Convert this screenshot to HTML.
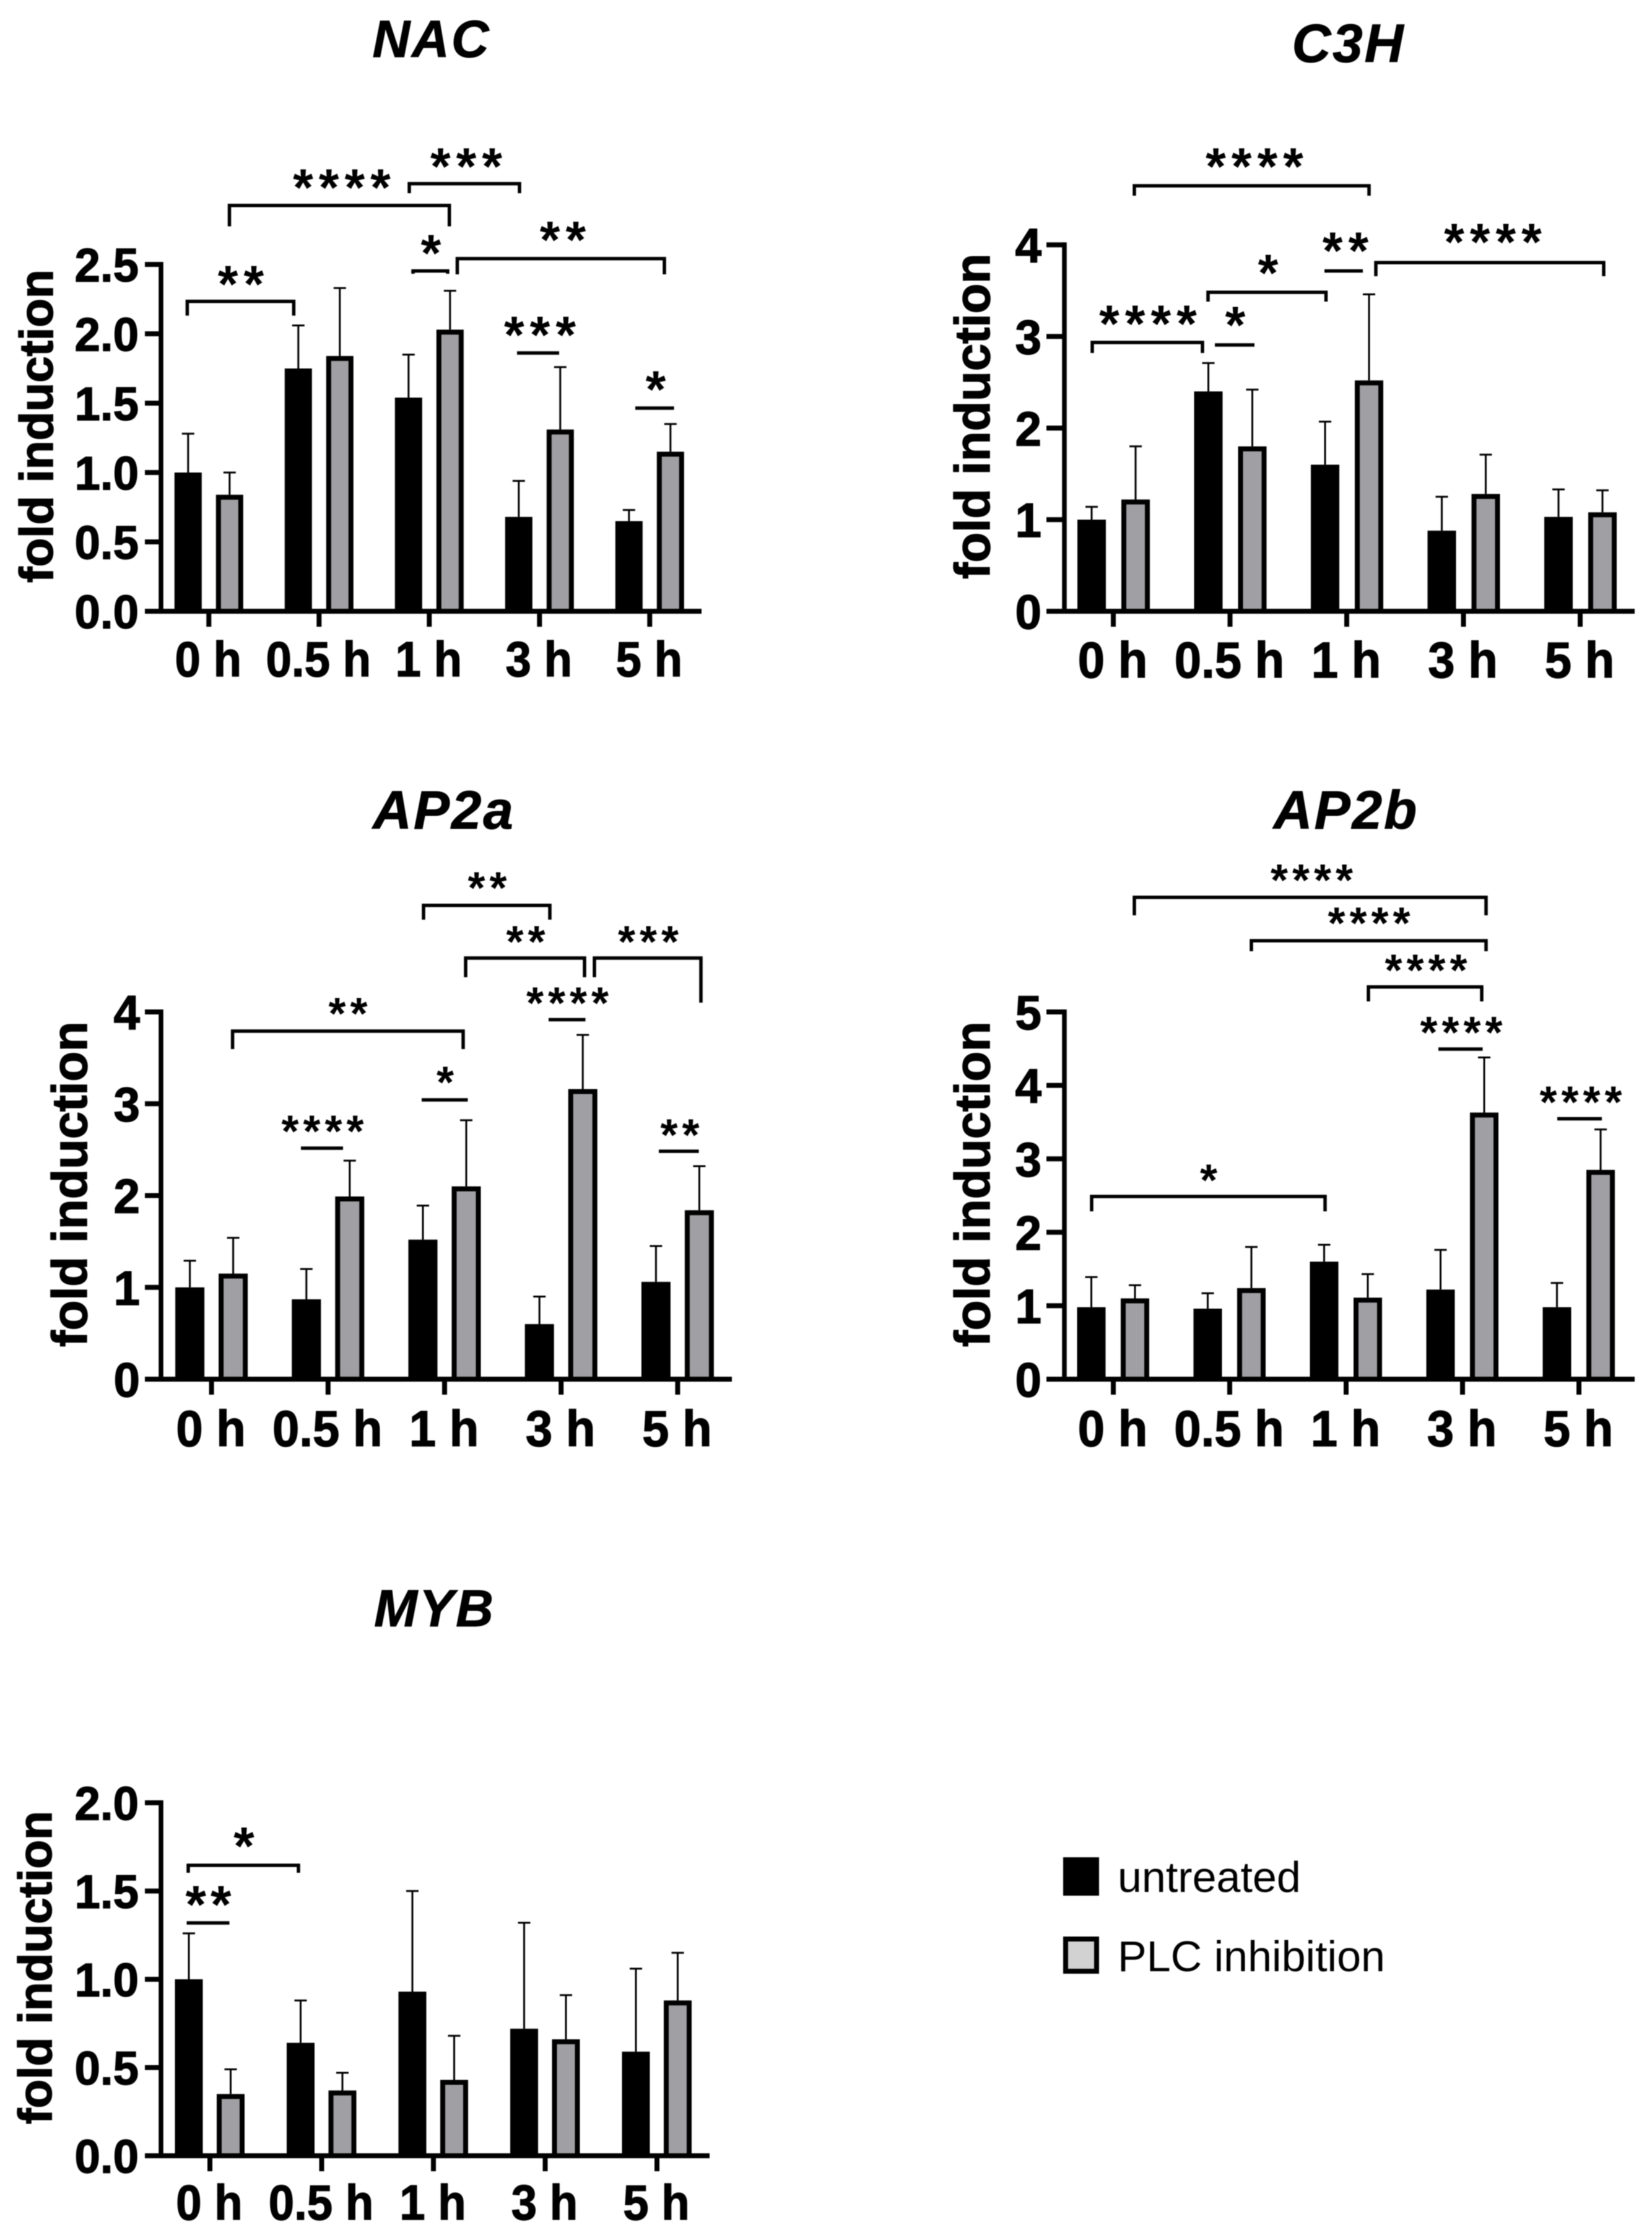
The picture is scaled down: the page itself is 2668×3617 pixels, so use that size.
<!DOCTYPE html>
<html lang="en">
<head>
<meta charset="utf-8">
<title>Fold induction charts</title>
<style>
  html, body { margin: 0; padding: 0; background: #fff; }
  svg { display: block; filter: blur(0.7px); }
  text { font-family: "Liberation Sans", sans-serif; fill: #000; }
  .bold { font-weight: 700; stroke: #000; stroke-width: 1.4px; }
  .gene { font-weight: 700; font-style: italic; font-size: 87px; letter-spacing: 3px; text-anchor: middle; stroke: #000; stroke-width: 1px; }
  .ytitle { font-weight: 700; text-anchor: middle; stroke: #000; stroke-width: 1.6px; }
  .legend-text { font-size: 70px; }
</style>
</head>
<body>
<svg id="figure" xmlns="http://www.w3.org/2000/svg" width="2668" height="3617" viewBox="0 0 2668 3617">
  <rect width="2668" height="3617" fill="#fff"/>

  <g id="nac">
    <text class="gene" style="font-size:84px" x="697" y="92">NAC</text>
    <text class="ytitle" transform="translate(85,688) rotate(-90)" font-size="76.5">fold induction</text>
  </g>
  <g id="c3h">
    <text class="gene" x="2178" y="100">C3H</text>
    <text class="ytitle" transform="translate(1598,672) rotate(-90)" font-size="79.5">fold induction</text>
  </g>
  <g id="ap2a">
    <text class="gene" x="717" y="1338">AP2a</text>
    <text class="ytitle" transform="translate(140,1912) rotate(-90)" font-size="79.5">fold induction</text>
  </g>
  <g id="ap2b">
    <text class="gene" x="2174" y="1338">AP2b</text>
    <text class="ytitle" transform="translate(1598,1912) rotate(-90)" font-size="79.5">fold induction</text>
  </g>
  <g id="myb">
    <text class="gene" style="font-size:84px" x="702" y="2626">MYB</text>
    <text class="ytitle" transform="translate(83,3177) rotate(-90)" font-size="76.5">fold induction</text>
  </g>

  <g>
    <g>
      <rect x="1717" y="2999" width="58" height="62" fill="#000"/>
      <text class="legend-text" x="1805" y="3055">untreated</text>
    </g>
    <g>
      <rect x="1721" y="3131" width="50" height="52" fill="#d2d2d2" stroke="#000" stroke-width="8"/>
      <text class="legend-text" x="1805" y="3183">PLC inhibition</text>
    </g>
  </g>
</svg>

<script>
// Shared categories
const categories = ['0 h', '0.5 h', '1 h', '3 h', '5 h'];

// NAC
const nacTicks = ['0.0', '0.5', '1.0', '1.5', '2.0', '2.5'];
const nacUntreated = [1.0, 1.75, 1.54, 0.68, 0.65];
const nacUntreatedError = [0.28, 0.31, 0.31, 0.26, 0.08];
const nacPlc = [0.84, 1.84, 2.03, 1.31, 1.15];
const nacPlcError = [0.16, 0.49, 0.28, 0.45, 0.20];

// C3H
const c3hTicks = ['0', '1', '2', '3', '4'];
const c3hUntreated = [1.0, 2.4, 1.6, 0.88, 1.03];
const c3hUntreatedError = [0.14, 0.31, 0.47, 0.37, 0.30];
const c3hPlc = [1.22, 1.8, 2.52, 1.28, 1.08];
const c3hPlcError = [0.58, 0.62, 0.94, 0.43, 0.24];

// AP2a
const ap2aTicks = ['0', '1', '2', '3', '4'];
const ap2aUntreated = [1.0, 0.87, 1.52, 0.6, 1.06];
const ap2aUntreatedError = [0.29, 0.33, 0.37, 0.30, 0.39];
const ap2aPlc = [1.15, 1.99, 2.1, 3.16, 1.84];
const ap2aPlcError = [0.39, 0.39, 0.72, 0.59, 0.48];

// AP2b
const ap2bTicks = ['0', '1', '2', '3', '4', '5'];
const ap2bUntreated = [0.98, 0.96, 1.6, 1.22, 0.98];
const ap2bUntreatedError = [0.41, 0.21, 0.23, 0.54, 0.33];
const ap2bPlc = [1.1, 1.24, 1.11, 3.63, 2.85];
const ap2bPlcError = [0.18, 0.56, 0.32, 0.75, 0.55];

// MYB
const mybTicks = ['0.0', '0.5', '1.0', '1.5', '2.0'];
const mybUntreated = [1.0, 0.64, 0.93, 0.72, 0.59];
const mybUntreatedError = [0.26, 0.24, 0.57, 0.60, 0.47];
const mybPlc = [0.35, 0.37, 0.43, 0.66, 0.88];
const mybPlcError = [0.14, 0.10, 0.25, 0.25, 0.27];

const SVGNS = 'http://www.w3.org/2000/svg';

function make(parent, tag, attrs, content) {
  const el = document.createElementNS(SVGNS, tag);
  for (const k in attrs) el.setAttribute(k, attrs[k]);
  if (content !== undefined) el.textContent = content;
  parent.appendChild(el);
  return el;
}

function drawPanel(p) {
  const root = document.getElementById(p.id);
  const tickValues = p.ticks.map(parseFloat);
  const yMax = tickValues[tickValues.length - 1];
  const yPos = v => p.baseY - (v / yMax) * (p.baseY - p.topY);
  const xPos = i => p.firstX + i * p.stepX;

  // error bars, drawn behind the bars
  function errorBar(cx, value, err) {
    const top = yPos(value + err);
    const line = make(root, 'line', { x1: cx, x2: cx, y1: yPos(value), y2: top, stroke: '#000', 'stroke-width': 3 });
    
    
    const cap = make(root, 'line', { x1: cx - 10, x2: cx + 10, y1: top, y2: top, stroke: '#000', 'stroke-width': 3 });
    
    
  }

  categories.forEach((c, i) => {
    const cxA = xPos(i) + p.offA;
    const cxB = xPos(i) + p.offB;
    errorBar(cxA, p.untreated[i], p.untreatedError[i]);
    errorBar(cxB, p.plc[i], p.plcError[i]);

    const yA = yPos(p.untreated[i]);
    const barA = make(root, 'rect', { x: cxA - p.barW / 2, y: yA, width: p.barW, height: p.baseY - yA, fill: '#000' });
    
    

    const yB = yPos(p.plc[i]);
    const sw = 8;
    const barB = make(root, 'rect', {
      x: cxB - p.barW / 2 + sw / 2, y: yB + sw / 2,
      width: p.barW - sw, height: Math.max(0, p.baseY - yB - sw / 2),
      fill: '#a0a0a4', stroke: '#000', 'stroke-width': sw
    });
    
    
  });

  // axes
  const yAxis = make(root, 'line', { x1: p.axisX, x2: p.axisX, y1: p.topY - 4, y2: p.baseY, stroke: '#000', 'stroke-width': 7.5 });
  
  
  const xAxis = make(root, 'line', { x1: p.axisLeft, x2: p.axisRight, y1: p.baseY, y2: p.baseY, stroke: '#000', 'stroke-width': 8 });
  
  

  p.ticks.forEach((label, i) => {
    const y = yPos(tickValues[i]);
    const tick = make(root, 'line', { x1: p.axisLeft, x2: p.axisX, y1: y, y2: y, stroke: '#000', 'stroke-width': 8 });
    
    
    const t = make(root, 'text', {
      class: 'bold', 'font-size': p.yFont, 'text-anchor': 'end',
      transform: 'translate(' + p.yLabelRight + ',' + (y + p.yFont * 0.36) + ') scale(' + p.yScale + ',1)'
    }, label);
    
    
  });

  categories.forEach((label, i) => {
    const x = xPos(i);
    const tick = make(root, 'line', { x1: x, x2: x, y1: p.baseY, y2: p.baseY + 25, stroke: '#000', 'stroke-width': 8 });
    
    
    const t = make(root, 'text', {
      class: 'bold', 'font-size': p.xFont, 'text-anchor': 'middle',
      transform: 'translate(' + (x - 1) + ',' + p.xLabelY + ') scale(' + p.xScale + ',1)'
    }, label);
    
    
  });
}

// significance annotation: horizontal line, optional legs, and stars
function sig(id, x1, x2, y, legL, legR, stars, sx, sy, fs, ls) {
  const root = document.getElementById(id);
  const g = make(root, 'g', {});
  
  
  let d = 'M' + x1 + ' ' + (legL === null ? y : legL) + ' L' + x1 + ' ' + y + ' L' + x2 + ' ' + y + ' L' + x2 + ' ' + (legR === null ? y : legR);
  const path = make(g, 'path', { d: d, fill: 'none', stroke: '#000', 'stroke-width': 5.5 });
  
  
  const t = make(g, 'text', { x: sx + ls / 2, y: sy + fs * 0.48, 'font-size': fs, 'font-weight': 700, 'letter-spacing': ls, 'text-anchor': 'middle' }, stars);
  
  
}

drawPanel({ id: 'nac', ticks: nacTicks, untreated: nacUntreated, untreatedError: nacUntreatedError, plc: nacPlc, plcError: nacPlcError,
  axisX: 260, axisLeft: 234, axisRight: 1133, baseY: 987, topY: 427, firstX: 337.3, stepX: 178, offA: -33.5, offB: 33.5, barW: 44,
  yFont: 76, yScale: 0.98, yLabelRight: 224, xFont: 80, xScale: 0.93, xLabelY: 1092 });
drawPanel({ id: 'c3h', ticks: c3hTicks, untreated: c3hUntreated, untreatedError: c3hUntreatedError, plc: c3hPlc, plcError: c3hPlcError,
  axisX: 1719, axisLeft: 1690, axisRight: 2640, baseY: 987, topY: 395.4, firstX: 1798, stepX: 188.5, offA: -35, offB: 36, barW: 46,
  yFont: 78, yScale: 0.98, yLabelRight: 1682, xFont: 82, xScale: 0.95, xLabelY: 1094 });
drawPanel({ id: 'ap2a', ticks: ap2aTicks, untreated: ap2aUntreated, untreatedError: ap2aUntreatedError, plc: ap2aPlc, plcError: ap2aPlcError,
  axisX: 260, axisLeft: 234, axisRight: 1182, baseY: 2227, topY: 1634, firstX: 341.6, stepX: 188.2, offA: -35, offB: 35, barW: 47,
  yFont: 78, yScale: 0.98, yLabelRight: 226, xFont: 82, xScale: 0.95, xLabelY: 2335 });
drawPanel({ id: 'ap2b', ticks: ap2bTicks, untreated: ap2bUntreated, untreatedError: ap2bUntreatedError, plc: ap2bPlc, plcError: ap2bPlcError,
  axisX: 1719, axisLeft: 1690, axisRight: 2640, baseY: 2227, topY: 1634, firstX: 1798, stepX: 188, offA: -35.5, offB: 35, barW: 46,
  yFont: 78, yScale: 0.98, yLabelRight: 1682, xFont: 82, xScale: 0.95, xLabelY: 2335 });
drawPanel({ id: 'myb', ticks: mybTicks, untreated: mybUntreated, untreatedError: mybUntreatedError, plc: mybPlc, plcError: mybPlcError,
  axisX: 260, axisLeft: 234, axisRight: 1146, baseY: 3481, topY: 2911, firstX: 339, stepX: 180.5, offA: -34, offB: 33.5, barW: 45,
  yFont: 76, yScale: 0.98, yLabelRight: 224, xFont: 80, xScale: 0.93, xLabelY: 3584 });

// NAC annotations
sig('nac', 302.4, 474.4, 486.6, 509.6, 509.6, '**', 389, 447, 84, 9);
sig('nac', 370.5, 725.7, 331.8, 365.5, 365.5, '****', 552, 291, 84, 9);
sig('nac', 661, 839, 296.6, 312, 312, '***', 753, 257, 84, 9);
sig('nac', 667, 723, 437.5, 442, 442, '*', 696, 397, 84, 0);
sig('nac', 738.5, 1073, 417.6, 443, 443, '**', 909, 375.5, 84, 9);
sig('nac', 835, 903, 570, null, null, '***', 872, 529, 84, 9);
sig('nac', 1026, 1088.6, 659, null, null, '*', 1059, 617, 84, 0);

// C3H annotations
sig('c3h', 1832, 2211, 300, 316, 316, '****', 2026, 257, 84, 9);
sig('c3h', 1764, 1942, 553, 570, 570, '****', 1854, 511, 84, 9);
sig('c3h', 1962, 2026, 557, null, null, '*', 1995, 513, 84, 0);
sig('c3h', 1951, 2141.5, 472, 487, 487, '*', 2048, 429, 84, 0);
sig('c3h', 2139, 2201, 437.5, null, null, '**', 2173, 393, 84, 9);
sig('c3h', 2222, 2590, 424, 446, 446, '****', 2411, 379, 84, 9);

// AP2a annotations
sig('ap2a', 684, 888, 1462, 1485, 1485, '**', 787, 1424, 72, 7);
sig('ap2a', 752, 944, 1547, 1578, 1578, '**', 849, 1511, 72, 7);
sig('ap2a', 960, 1132, 1547, 1578, 1619, '***', 1047, 1511, 72, 7);
sig('ap2a', 886, 945.5, 1646.5, null, null, '****', 916.5, 1610, 72, 7);
sig('ap2a', 375.6, 748, 1665, 1694, 1694, '**', 562, 1627, 72, 7);
sig('ap2a', 681, 755.5, 1776, null, null, '*', 719, 1738, 72, 0);
sig('ap2a', 486, 554, 1854, null, null, '****', 521, 1817, 72, 7);
sig('ap2a', 1064, 1128.6, 1859, null, null, '**', 1098, 1823, 72, 7);

// AP2b annotations
sig('ap2b', 1832, 2400, 1449, 1478, 1478, '****', 2118.5, 1411.5, 72, 7);
sig('ap2b', 2021, 2400, 1519, 1536, 1536, '****', 2211, 1481, 72, 7);
sig('ap2b', 2210, 2393, 1593.6, 1617, 1617, '****', 2303, 1557, 72, 7);
sig('ap2b', 2323, 2394.5, 1694, null, null, '****', 2360, 1657.5, 72, 7);
sig('ap2b', 2515, 2587, 1806.5, null, null, '****', 2553, 1770, 72, 7);
sig('ap2b', 1763, 2140, 1932, 1956, 1956, '*', 1952, 1896, 72, 0);

// MYB annotations
sig('myb', 304, 482, 3012, 3024, 3024, '*', 394, 2969, 86, 0);
sig('myb', 301.5, 370.5, 3105, null, null, '**', 336.5, 3063.5, 86, 7);
</script>
</body>
</html>
